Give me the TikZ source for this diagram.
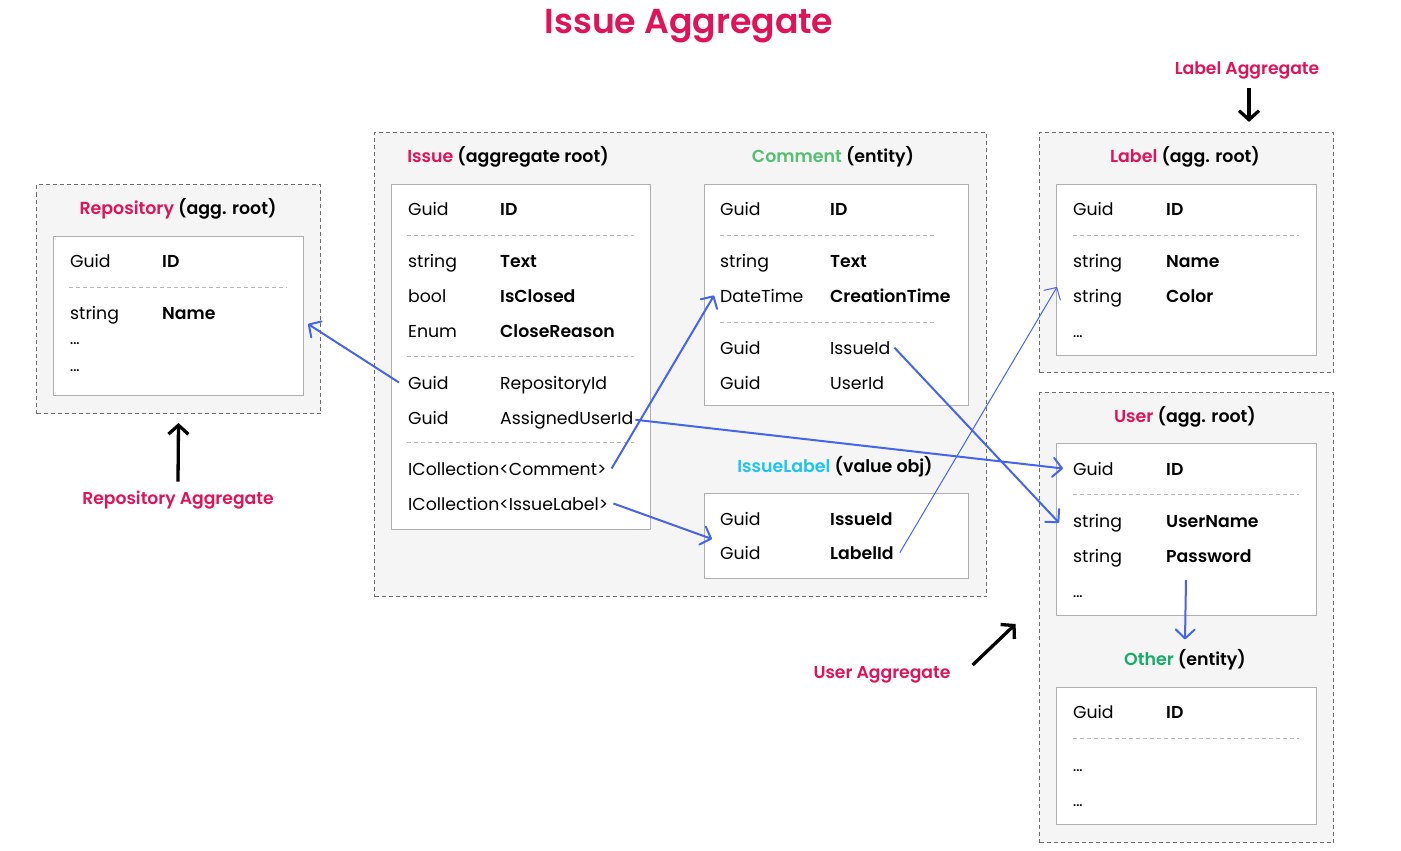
\documentclass[tikz,border=0pt]{standalone}
\usepackage{fontspec}
\setmainfont{Poppins}[BoldFont={Poppins SemiBold}]
\usetikzlibrary{arrows.meta}
\definecolor{aggred}{RGB}{224,18,88}
\definecolor{entgreen}{RGB}{84,192,112}
\definecolor{othgreen}{RGB}{22,172,104}
\definecolor{voblue}{RGB}{30,196,240}
\definecolor{linkblue}{RGB}{70,100,236}
\definecolor{aggfill}{RGB}{245,245,245}
\definecolor{boxline}{RGB}{175,175,175}
\newcommand{\frow}[7][fname]{%
  \node[ftype] (#2t) at (#3,#5) {#6};
  \node[#1] (#2n) at (#4,#5) {#7};}
\begin{document}
\begin{tikzpicture}[x=1pt, y=-1pt,
    aggbox/.style={draw=gray!85!black, fill=aggfill, dash pattern=on 4pt off 3pt, line width=1pt},
    tblbox/.style={draw=boxline, fill=white, line width=1pt},
    sepline/.style={draw=gray!55, dash pattern=on 4pt off 3pt, line width=0.7pt},
    ftype/.style={anchor=base west, inner sep=0pt, font=\fontsize{17.3}{20}\selectfont},
    fname/.style={ftype, font=\fontsize{17.3}{20}\selectfont\bfseries},
    dots/.style={anchor=base west, inner sep=0pt, font=\fontsize{12}{14}\selectfont\bfseries},
    hdr/.style={inner sep=0pt, font=\fontsize{17.4}{20}\selectfont\bfseries},
    aggname/.style={inner sep=0pt, text=aggred, font=\fontsize{17.2}{20}\selectfont\bfseries},
    link/.style={draw=linkblue, line width=2pt, -{Straight Barb[length=9pt,width=19pt,round]}},
    pointer/.style={draw=black, line width=3.3pt, -{Straight Barb[length=9pt,width=20pt]}}]
  \useasboundingbox (0,0) rectangle (1401,851);

  \node[aggname, font=\fontsize{34.6}{40}\selectfont\bfseries] (title) at (689,26) {Issue Aggregate};

  \node[aggbox, anchor=north west, minimum width=284pt, minimum height=229pt] (repoagg) at (36,184) {};
  \node[aggbox, anchor=north west, minimum width=612pt, minimum height=464pt] (issagg) at (374,132) {};
  \node[aggbox, anchor=north west, minimum width=294pt, minimum height=240pt] (lblagg) at (1039,132) {};
  \node[aggbox, anchor=north west, minimum width=294pt, minimum height=450pt] (usragg) at (1039,392) {};

  \node[tblbox, anchor=north west, minimum width=250pt, minimum height=159pt] (repobox) at (53,236) {};
  \node[tblbox, anchor=north west, minimum width=259pt, minimum height=345pt] (issbox) at (391,184) {};
  \node[tblbox, anchor=north west, minimum width=264pt, minimum height=221pt] (combox) at (704,184) {};
  \node[tblbox, anchor=north west, minimum width=264pt, minimum height=85pt] (ilbox) at (704,493) {};
  \node[tblbox, anchor=north west, minimum width=260pt, minimum height=171pt] (lblbox) at (1056,184) {};
  \node[tblbox, anchor=north west, minimum width=260pt, minimum height=172pt] (usrbox) at (1056,443) {};
  \node[tblbox, anchor=north west, minimum width=260pt, minimum height=137pt] (othbox) at (1056,687) {};

  \node[hdr] (repohdr) at (178,209) {\textcolor{aggred}{Repository} (agg. root)};
  \node[hdr] (isshdr) at (508,157) {\textcolor{aggred}{Issue} (aggregate root)};
  \node[hdr] (comhdr) at (833,157) {\textcolor{entgreen}{Comment} (entity)};
  \node[hdr] (ilhdr) at (835,467) {\textcolor{voblue}{IssueLabel} (value obj)};
  \node[hdr] (lblhdr) at (1185,157) {\textcolor{aggred}{Label} (agg. root)};
  \node[hdr] (usrhdr) at (1185,417) {\textcolor{aggred}{User} (agg. root)};
  \node[hdr] (othhdr) at (1185,660) {\textcolor{othgreen}{Other} (entity)};

  \frow{repid}{70}{162}{267}{Guid}{ID}
  \frow{repnm}{70}{162}{319}{string}{Name}
  \node[dots] (repd1) at (70,344) {...};
  \node[dots] (repd2) at (70,371) {...};
  \draw[sepline] (69,287) -- (287,287);

  \frow{issid}{408}{500}{215}{Guid}{ID}
  \frow{isstxt}{408}{500}{267}{string}{Text}
  \frow{isscl}{408}{500}{302}{bool}{IsClosed}
  \frow{issrsn}{408}{500}{337}{Enum}{CloseReason}
  \frow[ftype]{issrepo}{408}{500}{389}{Guid}{RepositoryId}
  \frow[ftype]{issusr}{408}{500}{424}{Guid}{AssignedUserId}
  \node[ftype] (isscom) at (408,475) {ICollection<Comment>};
  \node[ftype] (isslbl) at (408,510) {ICollection<IssueLabel>};
  \draw[sepline] (407,235) -- (634,235);
  \draw[sepline] (407,356) -- (634,356);
  \draw[sepline] (407,442) -- (634,442);

  \frow{comid}{720}{830}{215}{Guid}{ID}
  \frow{comtxt}{720}{830}{267}{string}{Text}
  \frow{comdt}{720}{830}{302}{DateTime}{CreationTime}
  \frow[ftype]{comiss}{720}{830}{354}{Guid}{IssueId}
  \frow[ftype]{comusr}{720}{830}{389}{Guid}{UserId}
  \draw[sepline] (720,235) -- (936,235);
  \draw[sepline] (720,322) -- (936,322);

  \frow{ilis}{720}{830}{525}{Guid}{IssueId}
  \frow{illb}{720}{830}{559}{Guid}{LabelId}

  \frow{lblid}{1073}{1166}{215}{Guid}{ID}
  \frow{lblnm}{1073}{1166}{267}{string}{Name}
  \frow{lblcol}{1073}{1166}{302}{string}{Color}
  \node[dots] (lbld) at (1073,337) {...};
  \draw[sepline] (1073,235) -- (1299,235);

  \frow{uid}{1073}{1166}{475}{Guid}{ID}
  \frow{uname}{1073}{1166}{527}{string}{UserName}
  \frow{upwd}{1073}{1166}{562}{string}{Password}
  \node[dots] (usrd) at (1073,597) {...};
  \draw[sepline] (1073,494) -- (1299,494);

  \frow{oid}{1073}{1166}{718}{Guid}{ID}
  \node[dots] (othd1) at (1073,771) {...};
  \node[dots] (othd2) at (1073,806) {...};
  \draw[sepline] (1073,738) -- (1299,738);

  \node[aggname] (reponame) at (178,500) {Repository Aggregate};
  \node[aggname] (lblname) at (1247,70) {Label Aggregate};
  \node[aggname] (usrname) at (882,675) {User Aggregate};

  \coordinate (repoin) at (308,324);
  \coordinate (lblin) at (1057,287);
  \coordinate (pwdsrc) at (1186,580);

  \draw[link] ([xshift=-9pt]issrepot.west) -- (repoin);
  \draw[link] ([xshift=5pt]isscom.east) -- ([xshift=-6pt]comdtt.west);
  \draw[link] ([xshift=5pt]isslbl.east) -- ([xshift=8pt,yshift=-3pt]ilbox.west);
  \draw[link] ([xshift=2pt]issusrn.east) -- ([xshift=-10pt]uidt.west);
  \draw[link] ([xshift=4pt]comissn.east) -- ([xshift=-14pt]unamet.west);
  \draw[link, line width=1pt] ([xshift=6pt]illbn.east) -- (lblin);
  \draw[link] (pwdsrc) -- ([yshift=10pt]othhdr.north);

  \draw[pointer] ([yshift=9pt]reponame.north) -- ([yshift=-9pt]repoagg.south);
  \draw[pointer] ([xshift=2pt,yshift=-9pt]lblname.south) -- ++(0,34);
  \draw[pointer] ([xshift=22pt,yshift=10pt]usrname.east) -- ++(43,-41);
\end{tikzpicture}
\end{document}
